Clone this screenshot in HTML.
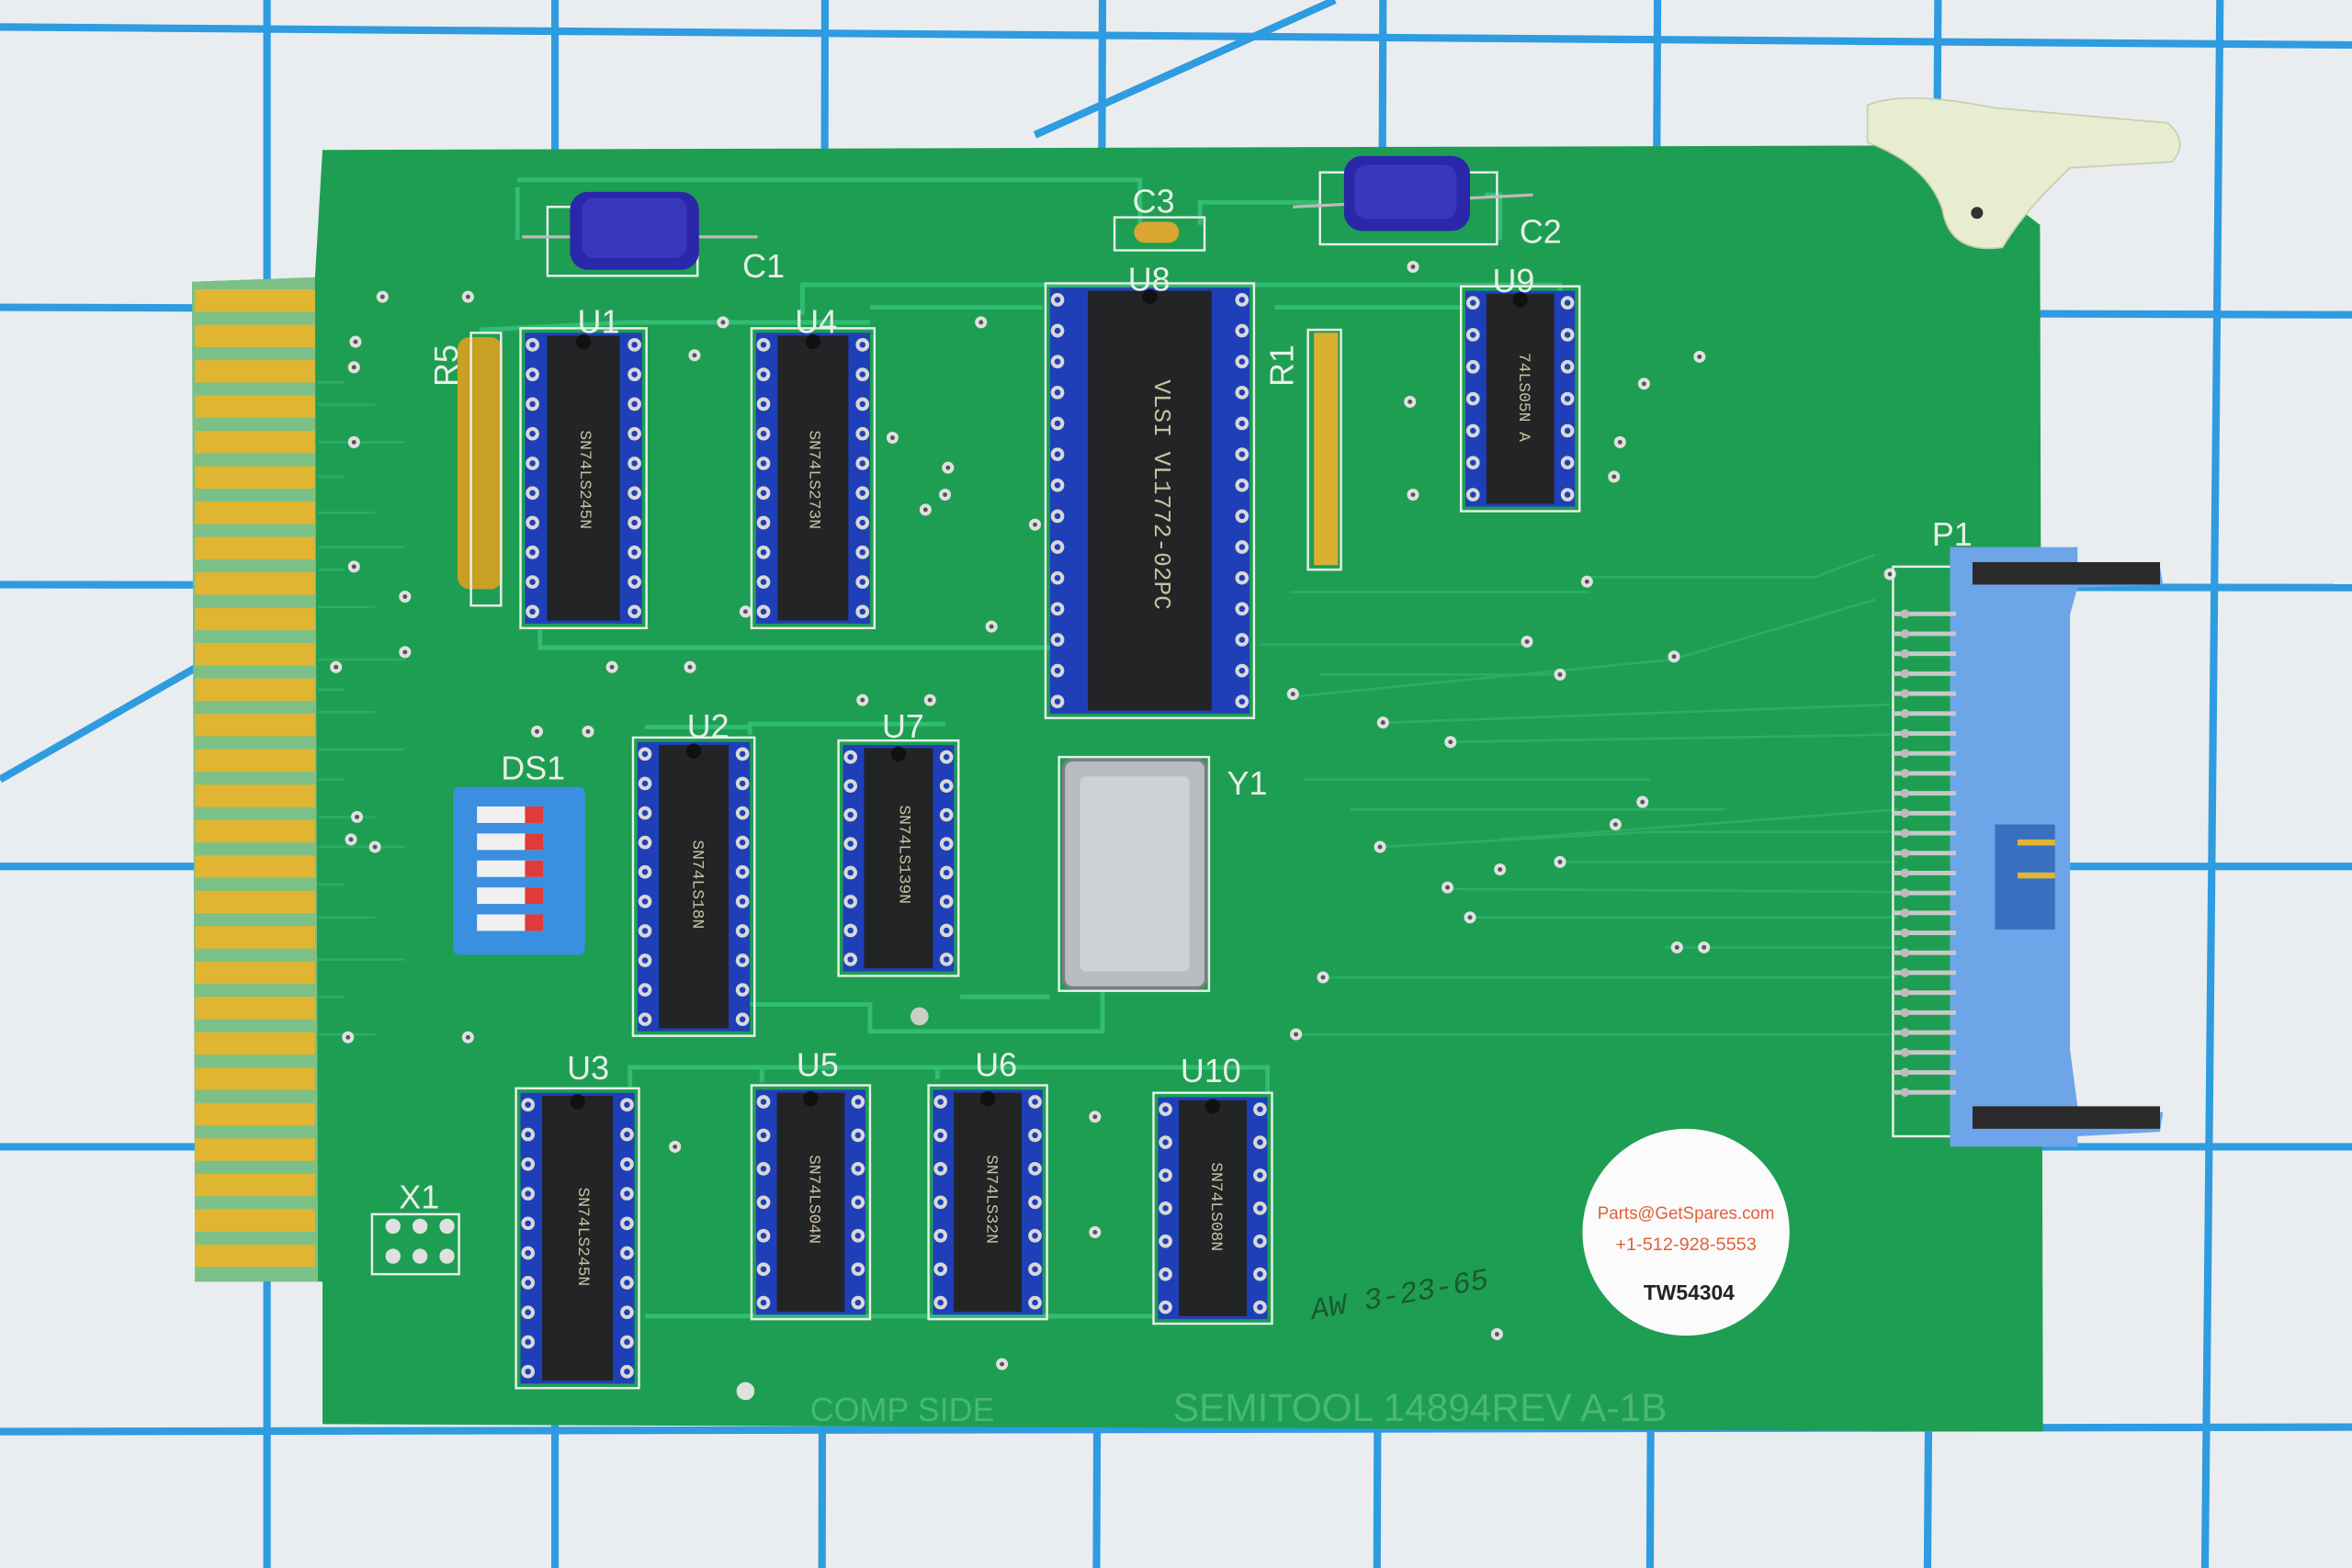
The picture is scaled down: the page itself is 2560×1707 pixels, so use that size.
<!DOCTYPE html>
<html><head><meta charset="utf-8"><style>
html,body{margin:0;padding:0;background:#eceeef;}
svg{display:block;}
text{font-family:"Liberation Mono",monospace;}
text.sans{font-family:"Liberation Sans",sans-serif;}
</style></head><body>
<svg id="s" width="2560" height="1707" viewBox="0 0 1568 1046" preserveAspectRatio="none" xmlns="http://www.w3.org/2000/svg">
<rect width="1568" height="1046" fill="#eaedef"/>
<g stroke="#2f9be0" stroke-width="5" fill="none">
<line x1="178" y1="0" x2="178" y2="1046"/><line x1="370" y1="0" x2="370" y2="1046"/>
<line x1="550" y1="0" x2="548" y2="1046"/><line x1="735" y1="0" x2="731" y2="1046"/>
<line x1="922" y1="0" x2="918" y2="1046"/><line x1="1105" y1="0" x2="1100" y2="1046"/>
<line x1="1292" y1="0" x2="1285" y2="1046"/><line x1="1480" y1="0" x2="1470" y2="1046"/>
<line x1="0" y1="18" x2="1568" y2="30"/><line x1="0" y1="205" x2="1568" y2="210"/>
<line x1="0" y1="390" x2="1568" y2="392"/><line x1="0" y1="578" x2="1568" y2="578"/>
<line x1="0" y1="765" x2="1568" y2="765"/><line x1="0" y1="955" x2="1568" y2="952"/>
<line x1="690" y1="90" x2="890" y2="0"/><line x1="0" y1="520" x2="140" y2="440"/>
</g>
<!-- board -->
<path d="M215,100 L1290,97 L1360,150 L1362,955 L215,950 L215,855 L130,855 L128,188 L210,185 Z" fill="#1e9e52"/>
<path d="M128,188 L210,185 L212,855 L130,855 Z" fill="#c8dcb0" opacity="0.55"/>
<g id="fing" fill="#e0b532"></g>
<!-- clip -->
<path d="M1245,70 Q1270,60 1330,72 L1445,82 Q1460,95 1448,108 L1380,112 Q1350,140 1335,165 Q1300,170 1295,140 Q1285,110 1245,95 Z" fill="#e8ecd0" stroke="#c8ccb0"/>
<circle cx="1318" cy="142" r="4" fill="#333"/>
<g id="traces" stroke="#34c077" stroke-width="3" fill="none" opacity="0.9">
<path d="M345,125 L345,160 M345,120 L760,120 L760,150 M800,150 L800,135 L880,135 M990,130 L1000,130 L1000,160"/>
<path d="M535,210 L535,190 L1040,190 L1040,200"/>
<path d="M580,205 L695,205 M850,205 L975,205"/>
<path d="M320,220 L420,215 L580,215"/>
<path d="M360,420 L360,432 L700,432 M430,485 L500,485"/>
<path d="M500,490 L500,483 L630,483"/>
<path d="M500,670 L580,670 L580,688 L735,688 L735,660 M640,665 L700,665"/>
<path d="M420,725 L420,712 L845,712 L845,730 M508,722 L508,712 M625,720 L625,712"/>
<path d="M430,878 L770,878"/>
</g>
<g stroke="#2bb06a" stroke-width="1.6" fill="none" opacity="0.9" id="thin"></g>
<g id="parts"></g>
<!-- caps -->
<g>
<rect x="365" y="138" width="100" height="46" fill="none" stroke="#e8f0e8" stroke-width="1.5"/>
<line x1="348" y1="158" x2="505" y2="158" stroke="#bbb" stroke-width="2"/>
<rect x="380" y="128" width="86" height="52" rx="12" fill="#2a27a8"/>
<rect x="388" y="132" width="70" height="40" rx="8" fill="#4545c8" opacity="0.6"/>
<rect x="880" y="115" width="118" height="48" fill="none" stroke="#e8f0e8" stroke-width="1.5"/>
<line x1="862" y1="138" x2="1022" y2="130" stroke="#bbb" stroke-width="2"/>
<rect x="896" y="104" width="84" height="50" rx="12" fill="#2a27a8"/>
<rect x="903" y="110" width="68" height="36" rx="8" fill="#4545c8" opacity="0.6"/>
<rect x="743" y="145" width="60" height="22" fill="none" stroke="#e8f0e8" stroke-width="1.5"/>
<rect x="756" y="148" width="30" height="14" rx="7" fill="#d9a630"/>
<rect x="305" y="225" width="30" height="168" rx="8" fill="#c8a024"/>
<rect x="314" y="222" width="20" height="182" fill="none" stroke="#e8f0e8" stroke-width="1.5"/>
<rect x="872" y="220" width="22" height="160" fill="none" stroke="#e8f0e8" stroke-width="1.5"/>
<rect x="876" y="222" width="16" height="155" fill="#d9b030"/>
</g>
<!-- DIP switch -->
<rect x="302" y="525" width="88" height="112" rx="4" fill="#3a8fe0"/>
<g id="dip"></g>
<!-- crystal -->
<rect x="706" y="505" width="100" height="156" fill="none" stroke="#e8f0e8" stroke-width="1.5"/>
<rect x="709" y="507" width="95" height="152" rx="6" fill="#b8bcc0" stroke="#7a7e82" stroke-width="2"/>
<rect x="720" y="518" width="73" height="130" rx="4" fill="#cfd2d5"/>
<!-- connector P1 -->
<rect x="1262" y="378" width="40" height="380" fill="none" stroke="#e8f0e8" stroke-width="1.5"/>
<path d="M1300,365 L1385,365 L1385,375 L1440,378 L1442,390 L1385,392 L1380,410 L1380,700 L1385,738 L1442,742 L1440,755 L1385,758 L1385,765 L1300,765 Z" fill="#6ea4e8"/>
<rect x="1315" y="375" width="125" height="15" fill="#2a2a2a"/>
<rect x="1315" y="738" width="125" height="15" fill="#2a2a2a"/>
<rect x="1330" y="550" width="40" height="70" fill="#3a6fc0"/>
<rect x="1345" y="560" width="25" height="4" fill="#e0b532"/>
<rect x="1345" y="582" width="25" height="4" fill="#e0b532"/>
<g id="ppins"></g>
<!-- X1 -->
<rect x="248" y="810" width="58" height="40" fill="none" stroke="#e8f0e8" stroke-width="1.5"/>
<g fill="#e0e0e0"><circle cx="262" cy="818" r="5"/><circle cx="280" cy="818" r="5"/><circle cx="298" cy="818" r="5"/><circle cx="262" cy="838" r="5"/><circle cx="280" cy="838" r="5"/><circle cx="298" cy="838" r="5"/></g>
<!-- sticker -->
<circle cx="1124" cy="822" r="69" fill="#fbfbfb"/>
<text class="sans" x="1124" y="813" font-size="12" fill="#e0603a" text-anchor="middle" textLength="118" lengthAdjust="spacingAndGlyphs">Parts@GetSpares.com</text>
<text class="sans" x="1124" y="834" font-size="12" fill="#e0603a" text-anchor="middle" textLength="94" lengthAdjust="spacingAndGlyphs">+1-512-928-5553</text>
<text class="sans" x="1126" y="867" font-size="14" font-weight="bold" fill="#222" text-anchor="middle">TW54304</text>
<!-- silkscreen labels -->
<g fill="#e8f0e8" font-size="22">
<text class="sans" x="385" y="222">U1</text><text class="sans" x="530" y="222">U4</text><text class="sans" x="752" y="194">U8</text><text class="sans" x="995" y="195">U9</text>
<text class="sans" x="755" y="142">C3</text><text class="sans" x="495" y="185">C1</text><text class="sans" x="1013" y="162">C2</text>
<text class="sans" x="458" y="492">U2</text><text class="sans" x="588" y="492">U7</text><text class="sans" x="334" y="520">DS1</text><text class="sans" x="818" y="530">Y1</text>
<text class="sans" x="378" y="720">U3</text><text class="sans" x="531" y="718">U5</text><text class="sans" x="650" y="718">U6</text><text class="sans" x="787" y="722">U10</text>
<text class="sans" x="266" y="806">X1</text><text class="sans" x="1288" y="364">P1</text>
<text class="sans" x="862" y="258" transform="rotate(-90 862 258)">R1</text>
<text class="sans" x="305" y="258" transform="rotate(-90 305 258)">R5</text>
</g>
<g fill="#48b873"><text class="sans" x="540" y="948" font-size="22">COMP SIDE</text><text class="sans" x="782" y="948" font-size="26">SEMITOOL 14894REV A-1B</text></g>
<text x="875" y="880" font-size="20" fill="#1a5a30" font-style="italic" transform="rotate(-10 875 880)">AW 3-23-65</text>
</svg>
<script>
var NS="http://www.w3.org/2000/svg";
function el(p,t,a){var e=document.createElementNS(NS,t);for(var k in a)e.setAttribute(k,a[k]);document.getElementById(p).appendChild(e);return e;}
for(var i=0;i<28;i++){var y=193+i*23.6;el("fing","rect",{x:130,y:y,width:80,height:15});}
var ty=[255,270,295,318,342,365,380,405,440,460,475,500,520,545,565,590,612,640,665,690];
ty.forEach(function(y,i){el("thin","path",{d:"M212,"+y+" L"+(230+(i%3)*20)+","+y});});
var rt=[[860,395,1060,395],[840,430,1020,430],[880,450,1040,450],[860,465,1115,440,1250,400],[925,482,1260,470],[965,495,1265,490],[870,520,1100,520],[900,540,1150,540],[920,565,1100,555,1265,555],[1040,575,1265,575],[965,593,1265,595],[980,612,1265,612],[1110,632,1265,632],[880,652,1265,652],[860,690,1265,690],[1000,560,1265,540],[1060,385,1210,385,1250,370]];
rt.forEach(function(r){var d="M"+r[0]+","+r[1];for(var j=2;j<r.length;j+=2)d+=" L"+r[j]+","+r[j+1];el("thin","path",{d:d});});
[[255,198],[312,198],[237,228],[482,215],[463,237],[595,292],[632,312],[630,330],[617,340],[690,350],[661,418],[408,445],[460,445],[497,408],[270,435],[270,398],[236,245],[236,295],[236,378],[224,445],[238,545],[250,565],[234,560],[358,488],[392,488],[575,467],[620,467],[862,463],[922,482],[967,495],[1116,438],[1018,428],[1040,450],[1058,388],[1095,535],[1077,550],[1040,575],[1000,580],[965,592],[980,612],[1118,632],[1136,632],[882,652],[864,690],[232,692],[312,692],[450,765],[730,745],[730,822],[668,910],[998,890],[942,178],[654,215],[1133,238],[1096,256],[1080,295],[1076,318],[942,330],[940,268],[920,565],[1260,383]].forEach(function(v){el("parts","circle",{cx:v[0],cy:v[1],r:4,fill:"#e0e0e0"});el("parts","circle",{cx:v[0],cy:v[1],r:1.5,fill:"#555"});});
el("parts","circle",{cx:497,cy:928,r:6,fill:"#e0e0e0"});el("parts","circle",{cx:613,cy:678,r:6,fill:"#c8d0c8"});
function chip(x,y,w,h,n){
 el("parts","rect",{x:x-3,y:y-3,width:w+6,height:h+6,fill:"none",stroke:"#e8f0e8","stroke-width":1.5});
 el("parts","rect",{x:x,y:y,width:w,height:h,fill:"#1f3fb8"});
 var bw=w*0.62;el("parts","rect",{x:x+(w-bw)/2,y:y+2,width:bw,height:h-4,fill:"#222426"});
 el("parts","circle",{cx:x+w/2,cy:y+6,r:5,fill:"#111"});
 var step=(h-16)/(n-1);
 for(var i=0;i<n;i++){var py=y+8+i*step;
  [x+5,x+w-5].forEach(function(px){el("parts","circle",{cx:px,cy:py,r:4.5,fill:"#d8d8d8"});el("parts","circle",{cx:px,cy:py,r:2,fill:"#1f3fb8"});});}
}
chip(350,222,78,194,10);chip(504,222,76,194,10);chip(700,192,133,284,14);chip(977,194,73,144,7);
chip(425,495,75,193,10);chip(562,497,74,151,8);chip(347,729,76,194,10);chip(504,727,73,150,7);chip(622,727,73,150,7);chip(772,732,73,148,7);
var ct=[[387,320,"SN74LS245N"],[540,320,"SN74LS273N"],[770,330,"VLSI  VL1772-02PC"],[1013,265,"74LS05N A"],[462,590,"SN74LS18N"],[600,570,"SN74LS139N"],[386,825,"SN74LS245N"],[540,800,"SN74LS04N"],[658,800,"SN74LS32N"],[808,805,"SN74LS08N"]];
ct.forEach(function(c){var t=el("parts","text",{x:c[0],y:c[1],fill:"#c8c0a0","font-size":c[2].length>12?16:11,"text-anchor":"middle",transform:"rotate(90 "+c[0]+" "+c[1]+")"});t.textContent=c[2];});
var ot=el("parts","text",{x:757,y:585,fill:"#8a8e92","font-size":12,"text-anchor":"middle",transform:"rotate(90 757 585)"});ot.textContent="10.000MHz 100AC";
for(var i=0;i<5;i++){var y=538+i*18;el("dip","rect",{x:318,y:y,width:44,height:11,fill:"#f0f0f0"});el("dip","rect",{x:350,y:y,width:12,height:11,fill:"#e03a3a"});}
for(var i=0;i<25;i++){var y=408+i*13.3;el("ppins","rect",{x:1262,y:y,width:42,height:3,fill:"#c8c8c8"});el("ppins","circle",{cx:1270,cy:y+1.5,r:3,fill:"#bbb"});}
</script>
</body></html>
